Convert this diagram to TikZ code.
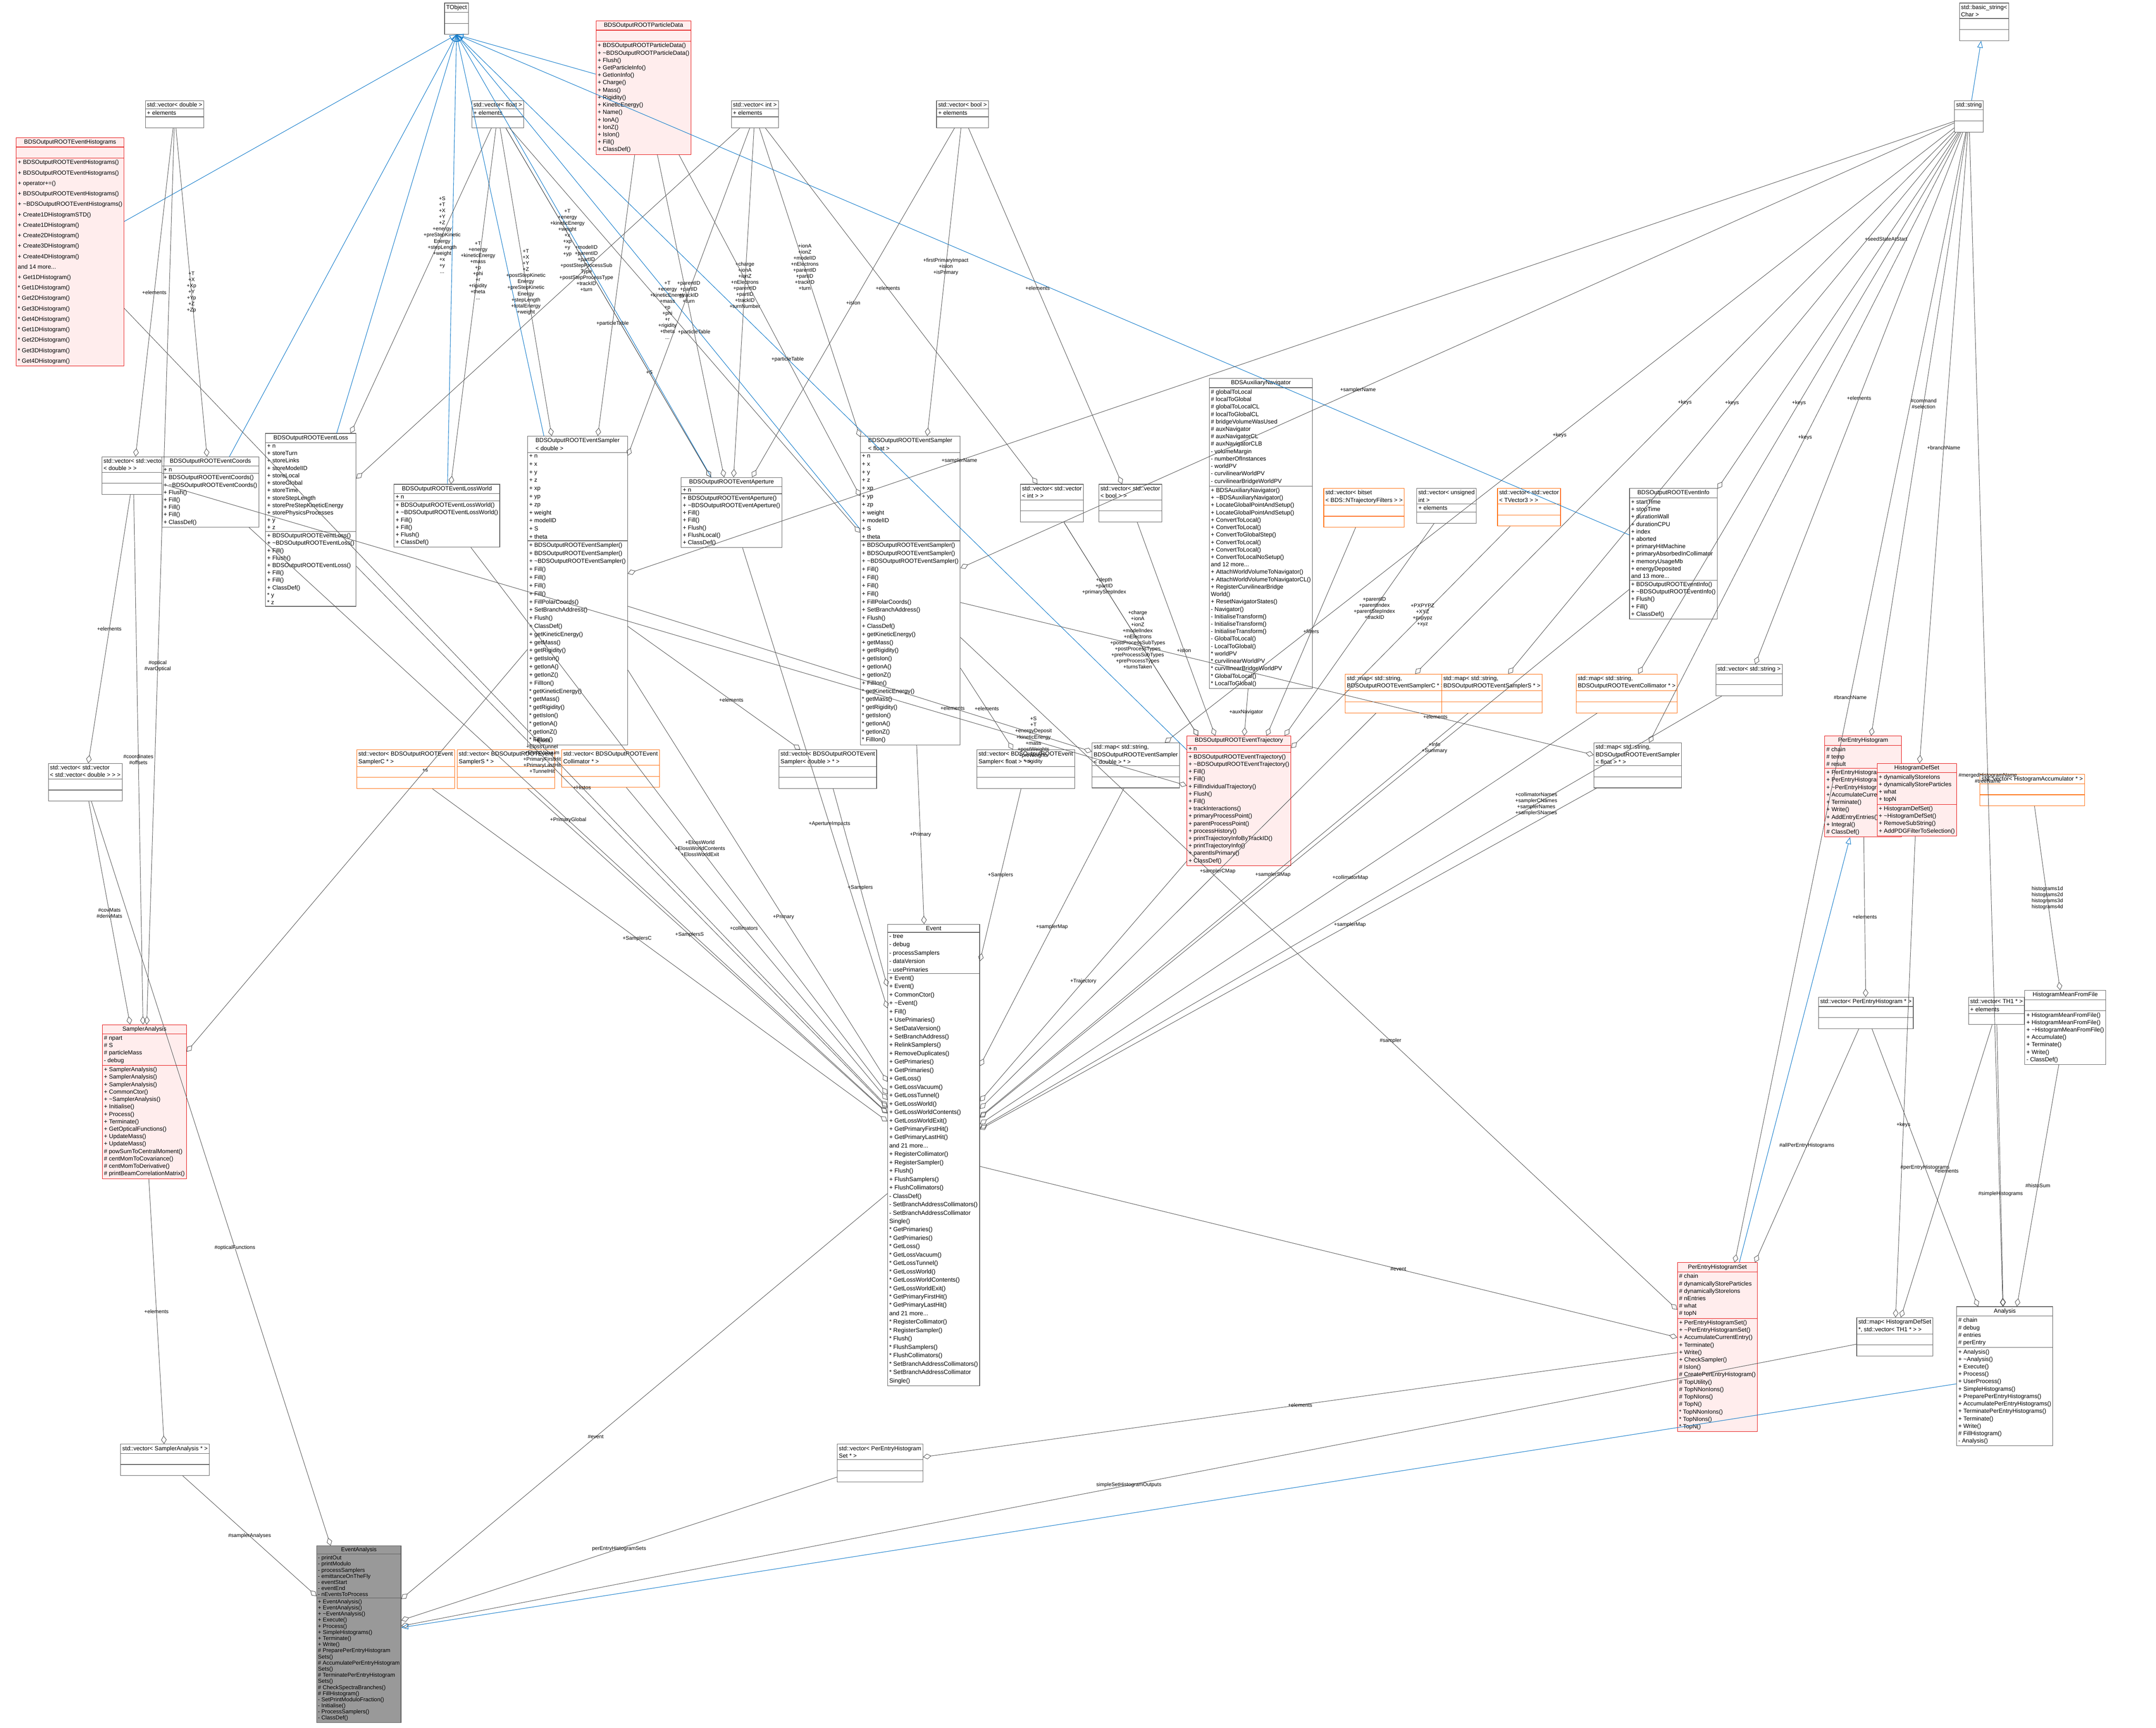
\documentclass[tikz,border=0pt]{standalone}
\usepackage{fontspec}
\setmainfont{Liberation Sans}
\usetikzlibrary{shapes.multipart,arrows.meta}
\newcommand{\tld}{\textasciitilde}
\newcommand{\ff}{\fontsize{4.3}{5.4}\selectfont}
\newcommand{\lf}{\fontsize{3.8}{4.4}\selectfont}
\tikzset{
 cls/.style={draw=black!65,fill=white,line width=0.35pt,rectangle split,rectangle split parts=3,
   rectangle split part align={center,left,left},align=left,inner sep=1.2pt,font=\ff,
   rectangle split empty part height=3pt,anchor=north},
 redc/.style={cls,draw=red!90!black,fill=red!7},
 orc/.style={cls,draw=orange!80!red},
 grc/.style={cls,fill=black!40},
 agg/.style={draw=black!70,line width=0.3pt,-{Diamond[open,length=6pt,width=4pt]}},
 inh/.style={draw=cyan!60!blue,line width=0.35pt,-{Triangle[open,length=5pt,width=4pt]}},
 lbl/.style={font=\lf,align=center,inner sep=0.5pt}
}
\begin{document}
\begin{tikzpicture}[x=1pt,y=-1pt]
\useasboundingbox (0,0) rectangle (1568,1256.5);
\node[cls] (tobj) at (332,2) {TObject\nodepart{second}\nodepart{third}};
\node[cls] (bstr) at (1443,2) {std::basic\_string<\\Char >\nodepart{second}\nodepart{third}};
\node[redc] (pdata) at (468,15) {BDSOutputROOTParticleData\nodepart{second}\nodepart{third}+ BDSOutputROOTParticleData()\\+ \tld BDSOutputROOTParticleData()\\+ Flush()\\+ GetParticleInfo()\\+ GetIonInfo()\\+ Charge()\\+ Mass()\\+ Rigidity()\\+ KineticEnergy()\\+ Name()\\+ IonA()\\+ IonZ()\\+ IsIon()\\+ Fill()\\+ ClassDef()};
\node[cls] (vd) at (127,73) {std::vector< double >\nodepart{second}+ elements\nodepart{third}};
\node[cls] (vf) at (362,73) {std::vector< float >\nodepart{second}+ elements\nodepart{third}};
\node[cls] (vi) at (549,73) {std::vector< int >\nodepart{second}+ elements\nodepart{third}};
\node[cls] (vb) at (700,73) {std::vector< bool >\nodepart{second}+ elements\nodepart{third}};
\node[cls] (str) at (1432,73) {std::string\nodepart{second}\nodepart{third}};
\node[redc,font=\fontsize{4.3}{7.6}\selectfont] (hist) at (51,100) {BDSOutputROOTEventHistograms\nodepart{second}\nodepart{third}+ BDSOutputROOTEventHistograms()\\+ BDSOutputROOTEventHistograms()\\+ operator+=()\\+ BDSOutputROOTEventHistograms()\\+ \tld BDSOutputROOTEventHistograms()\\+ Create1DHistogramSTD()\\+ Create1DHistogram()\\+ Create2DHistogram()\\+ Create3DHistogram()\\+ Create4DHistogram()\\and 14 more...\\+ Get1DHistogram()\\* Get1DHistogram()\\* Get2DHistogram()\\* Get3DHistogram()\\* Get4DHistogram()\\* Get1DHistogram()\\* Get2DHistogram()\\* Get3DHistogram()\\* Get4DHistogram()};
\node[cls] (vvd) at (97,332) {std::vector< std::vector\\< double > >\nodepart{second}\nodepart{third}};
\node[cls] (coords) at (153,332) {BDSOutputROOTEventCoords\nodepart{second}+ n\nodepart{third}+ BDSOutputROOTEventCoords()\\+ \tld BDSOutputROOTEventCoords()\\+ Flush()\\+ Fill()\\+ Fill()\\+ Fill()\\+ ClassDef()};
\node[cls] (loss) at (226,315) {BDSOutputROOTEventLoss\nodepart{second}+ n\\+ storeTurn\\+ storeLinks\\+ storeModelID\\+ storeLocal\\+ storeGlobal\\+ storeTime\\+ storeStepLength\\+ storePreStepKineticEnergy\\+ storePhysicsProcesses\\+ y\\+ z\nodepart{third}+ BDSOutputROOTEventLoss()\\+ \tld BDSOutputROOTEventLoss()\\+ Fill()\\+ Flush()\\+ BDSOutputROOTEventLoss()\\+ Fill()\\+ Fill()\\+ ClassDef()\\* y\\* z};
\node[cls] (lw) at (325,352) {BDSOutputROOTEventLossWorld\nodepart{second}+ n\nodepart{third}+ BDSOutputROOTEventLossWorld()\\+ \tld BDSOutputROOTEventLossWorld()\\+ Fill()\\+ Fill()\\+ Flush()\\+ ClassDef()};
\node[cls,font=\fontsize{4.3}{5.9}\selectfont] (sd) at (420,317) {BDSOutputROOTEventSampler\\< double >\nodepart{second}+ n\\+ x\\+ y\\+ z\\+ xp\\+ yp\\+ zp\\+ weight\\+ modelID\\+ S\\+ theta\nodepart{third}+ BDSOutputROOTEventSampler()\\+ BDSOutputROOTEventSampler()\\+ \tld BDSOutputROOTEventSampler()\\+ Fill()\\+ Fill()\\+ Fill()\\+ Fill()\\+ FillPolarCoords()\\+ SetBranchAddress()\\+ Flush()\\+ ClassDef()\\+ getKineticEnergy()\\+ getMass()\\+ getRigidity()\\+ getIsIon()\\+ getIonA()\\+ getIonZ()\\+ FillIon()\\* getKineticEnergy()\\* getMass()\\* getRigidity()\\* getIsIon()\\* getIonA()\\* getIonZ()\\* FillIon()};
\node[cls] (ap) at (532,347) {BDSOutputROOTEventAperture\nodepart{second}+ n\nodepart{third}+ BDSOutputROOTEventAperture()\\+ \tld BDSOutputROOTEventAperture()\\+ Fill()\\+ Fill()\\+ Flush()\\+ FlushLocal()\\+ ClassDef()};
\node[cls,font=\fontsize{4.3}{5.9}\selectfont] (sf) at (662,317) {BDSOutputROOTEventSampler\\< float >\nodepart{second}+ n\\+ x\\+ y\\+ z\\+ xp\\+ yp\\+ zp\\+ weight\\+ modelID\\+ S\\+ theta\nodepart{third}+ BDSOutputROOTEventSampler()\\+ BDSOutputROOTEventSampler()\\+ \tld BDSOutputROOTEventSampler()\\+ Fill()\\+ Fill()\\+ Fill()\\+ Fill()\\+ FillPolarCoords()\\+ SetBranchAddress()\\+ Flush()\\+ ClassDef()\\+ getKineticEnergy()\\+ getMass()\\+ getRigidity()\\+ getIsIon()\\+ getIonA()\\+ getIonZ()\\+ FillIon()\\* getKineticEnergy()\\* getMass()\\* getRigidity()\\* getIsIon()\\* getIonA()\\* getIonZ()\\* FillIon()};
\node[cls] (vvi) at (765,352) {std::vector< std::vector\\< int > >\nodepart{second}\nodepart{third}};
\node[cls] (vvb) at (822,352) {std::vector< std::vector\\< bool > >\nodepart{second}\nodepart{third}};
\node[cls] (aux) at (917,275) {BDSAuxiliaryNavigator\nodepart{second}\# globalToLocal\\\# localToGlobal\\\# globalToLocalCL\\\# localToGlobalCL\\\# bridgeVolumeWasUsed\\\# auxNavigator\\\# auxNavigatorCL\\\# auxNavigatorCLB\\- volumeMargin\\- numberOfInstances\\- worldPV\\- curvilinearWorldPV\\- curvilinearBridgeWorldPV\nodepart{third}+ BDSAuxiliaryNavigator()\\+ \tld BDSAuxiliaryNavigator()\\+ LocateGlobalPointAndSetup()\\+ LocateGlobalPointAndSetup()\\+ ConvertToLocal()\\+ ConvertToLocal()\\+ ConvertToGlobalStep()\\+ ConvertToLocal()\\+ ConvertToLocal()\\+ ConvertToLocalNoSetup()\\and 12 more...\\+ AttachWorldVolumeToNavigator()\\+ AttachWorldVolumeToNavigatorCL()\\+ RegisterCurvilinearBridge\\World()\\+ ResetNavigatorStates()\\- Navigator()\\- InitialiseTransform()\\- InitialiseTransform()\\- InitialiseTransform()\\- GlobalToLocal()\\- LocalToGlobal()\\* worldPV\\* curvilinearWorldPV\\* curvilinearBridgeWorldPV\\* GlobalToLocal()\\* LocalToGlobal()};
\node[orc] (bits) at (992,355) {std::vector< bitset\\< BDS::NTrajectoryFilters > >\nodepart{second}\nodepart{third}};
\node[cls] (vu) at (1052,355) {std::vector< unsigned\\int >\nodepart{second}+ elements\nodepart{third}};
\node[orc] (tv3) at (1112,355) {std::vector< std::vector\\< TVector3 > >\nodepart{second}\nodepart{third}};
\node[cls] (info) at (1217,355) {BDSOutputROOTEventInfo\nodepart{second}+ startTime\\+ stopTime\\+ durationWall\\+ durationCPU\\+ index\\+ aborted\\+ primaryHitMachine\\+ primaryAbsorbedInCollimator\\+ memoryUsageMb\\+ energyDeposited\\and 13 more...\nodepart{third}+ BDSOutputROOTEventInfo()\\+ \tld BDSOutputROOTEventInfo()\\+ Flush()\\+ Fill()\\+ ClassDef()};
\node[cls] (vs) at (1272,483) {std::vector< std::string >\nodepart{second}\nodepart{third}};
\node[orc] (mc) at (1015,490) {std::map< std::string,\\BDSOutputROOTEventSamplerC * >\nodepart{second}\nodepart{third}};
\node[orc] (ms) at (1085,490) {std::map< std::string,\\BDSOutputROOTEventSamplerS * >\nodepart{second}\nodepart{third}};
\node[orc] (mcol) at (1183,490) {std::map< std::string,\\BDSOutputROOTEventCollimator * >\nodepart{second}\nodepart{third}};
\node[redc] (traj) at (901,535) {BDSOutputROOTEventTrajectory\nodepart{second}+ n\nodepart{third}+ BDSOutputROOTEventTrajectory()\\+ \tld BDSOutputROOTEventTrajectory()\\+ Fill()\\+ Fill()\\+ FillIndividualTrajectory()\\+ Flush()\\+ Fill()\\+ trackInteractions()\\+ primaryProcessPoint()\\+ parentProcessPoint()\\+ processHistory()\\+ printTrajectoryInfoByTrackID()\\+ printTrajectoryInfo()\\+ parentIsPrimary()\\+ ClassDef()};
\node[cls] (mdd) at (826,540) {std::map< std::string,\\BDSOutputROOTEventSampler\\< double > * >\nodepart{second}\nodepart{third}};
\node[cls] (vsf) at (746,545) {std::vector< BDSOutputROOTEvent\\Sampler< float > * >\nodepart{second}\nodepart{third}};
\node[cls] (vsd) at (602,545) {std::vector< BDSOutputROOTEvent\\Sampler< double > * >\nodepart{second}\nodepart{third}};
\node[orc] (vc) at (295,545) {std::vector< BDSOutputROOTEvent\\SamplerC * >\nodepart{second}\nodepart{third}};
\node[orc] (vss) at (368,545) {std::vector< BDSOutputROOTEvent\\SamplerS * >\nodepart{second}\nodepart{third}};
\node[orc] (vcol) at (444,545) {std::vector< BDSOutputROOTEvent\\Collimator * >\nodepart{second}\nodepart{third}};
\node[cls] (msf) at (1191,540) {std::map< std::string,\\BDSOutputROOTEventSampler\\< float > * >\nodepart{second}\nodepart{third}};
\node[redc] (peh) at (1355,535) {PerEntryHistogram\nodepart{second}\# chain\\\# temp\\\# result\nodepart{third}+ PerEntryHistogram()\\+ PerEntryHistogram()\\+ \tld PerEntryHistogram()\\+ AccumulateCurrentEntry()\\+ Terminate()\\+ Write()\\+ AddEntryEntries()\\+ Integral()\\\# ClassDef()};
\node[redc] (hds) at (1394,555) {HistogramDefSet\nodepart{second}+ dynamicallyStoreIons\\+ dynamicallyStoreParticles\\+ what\\+ topN\nodepart{third}+ HistogramDefSet()\\+ \tld HistogramDefSet()\\+ RemoveSubString()\\+ AddPDGFilterToSelection()};
\node[orc] (vacc) at (1478,563) {std::vector< HistogramAccumulator * >\nodepart{second}\nodepart{third}};
\node[cls] (hmff) at (1502,720) {HistogramMeanFromFile\nodepart{second}\nodepart{third}+ HistogramMeanFromFile()\\+ HistogramMeanFromFile()\\+ \tld HistogramMeanFromFile()\\+ Accumulate()\\+ Terminate()\\+ Write()\\- ClassDef()};
\node[cls] (vpeh) at (1357,725) {std::vector< PerEntryHistogram * >\nodepart{second}\nodepart{third}};
\node[cls] (vth) at (1452,725) {std::vector< TH1 * >\nodepart{second}+ elements\nodepart{third}};
\node[cls] (vvvd) at (62,555) {std::vector< std::vector\\< std::vector< double > > >\nodepart{second}\nodepart{third}};
\node[redc] (sa) at (105,745) {SamplerAnalysis\nodepart{second}\# npart\\\# S\\\# particleMass\\- debug\nodepart{third}+ SamplerAnalysis()\\+ SamplerAnalysis()\\+ SamplerAnalysis()\\+ CommonCtor()\\+ \tld SamplerAnalysis()\\+ Initialise()\\+ Process()\\+ Terminate()\\+ GetOpticalFunctions()\\+ UpdateMass()\\+ UpdateMass()\\\# powSumToCentralMoment()\\\# centMomToCovariance()\\\# centMomToDerivative()\\\# printBeamCorrelationMatrix()};
\node[cls,font=\fontsize{4.4}{6.1}\selectfont] (ev) at (679,672) {Event\nodepart{second}- tree\\- debug\\- processSamplers\\- dataVersion\\- usePrimaries\nodepart{third}+ Event()\\+ Event()\\+ CommonCtor()\\+ \tld Event()\\+ Fill()\\+ UsePrimaries()\\+ SetDataVersion()\\+ SetBranchAddress()\\+ RelinkSamplers()\\+ RemoveDuplicates()\\+ GetPrimaries()\\+ GetPrimaries()\\+ GetLoss()\\+ GetLossVacuum()\\+ GetLossTunnel()\\+ GetLossWorld()\\+ GetLossWorldContents()\\+ GetLossWorldExit()\\+ GetPrimaryFirstHit()\\+ GetPrimaryLastHit()\\and 21 more...\\+ RegisterCollimator()\\+ RegisterSampler()\\+ Flush()\\+ FlushSamplers()\\+ FlushCollimators()\\- ClassDef()\\- SetBranchAddressCollimators()\\- SetBranchAddressCollimator\\Single()\\* GetPrimaries()\\* GetPrimaries()\\* GetLoss()\\* GetLossVacuum()\\* GetLossTunnel()\\* GetLossWorld()\\* GetLossWorldContents()\\* GetLossWorldExit()\\* GetPrimaryFirstHit()\\* GetPrimaryLastHit()\\and 21 more...\\* RegisterCollimator()\\* RegisterSampler()\\* Flush()\\* FlushSamplers()\\* FlushCollimators()\\* SetBranchAddressCollimators()\\* SetBranchAddressCollimator\\Single()};
\node[redc] (pehs) at (1249,918) {PerEntryHistogramSet\nodepart{second}\# chain\\\# dynamicallyStoreParticles\\\# dynamicallyStoreIons\\\# nEntries\\\# what\\\# topN\nodepart{third}+ PerEntryHistogramSet()\\+ \tld PerEntryHistogramSet()\\+ AccumulateCurrentEntry()\\+ Terminate()\\+ Write()\\+ CheckSampler()\\\# IsIon()\\\# CreatePerEntryHistogram()\\\# TopUtility()\\\# TopNNonIons()\\\# TopNIons()\\\# TopN()\\* TopNNonIons()\\* TopNIons()\\* TopN()};
\node[cls] (mhds) at (1378,958) {std::map< HistogramDefSet\\*, std::vector< TH1 * > >\nodepart{second}\nodepart{third}};
\node[cls] (an) at (1458,950) {Analysis\nodepart{second}\# chain\\\# debug\\\# entries\\\# perEntry\nodepart{third}+ Analysis()\\+ \tld Analysis()\\+ Execute()\\+ Process()\\+ UserProcess()\\+ SimpleHistograms()\\+ PreparePerEntryHistograms()\\+ AccumulatePerEntryHistograms()\\+ TerminatePerEntryHistograms()\\+ Terminate()\\+ Write()\\\# FillHistogram()\\- Analysis()};
\node[cls] (vpehs) at (640,1050) {std::vector< PerEntryHistogram\\Set * >\nodepart{second}\nodepart{third}};
\node[cls] (vsa) at (120,1050) {std::vector< SamplerAnalysis * >\nodepart{second}\nodepart{third}};
\node[grc,font=\fontsize{4.1}{4.45}\selectfont,inner sep=0.9pt] (ea) at (261,1124) {EventAnalysis\nodepart{second}- printOut\\- printModulo\\- processSamplers\\- emittanceOnTheFly\\- eventStart\\- eventEnd\\- nEventsToProcess\nodepart{third}+ EventAnalysis()\\+ EventAnalysis()\\+ \tld EventAnalysis()\\+ Execute()\\+ Process()\\+ SimpleHistograms()\\+ Terminate()\\+ Write()\\\# PreparePerEntryHistogram\\Sets()\\\# AccumulatePerEntryHistogram\\Sets()\\\# TerminatePerEntryHistogram\\Sets()\\\# CheckSpectraBranches()\\\# FillHistogram()\\- SetPrintModuloFraction()\\- Initialise()\\- ProcessSamplers()\\- ClassDef()};
% inheritance
\foreach \n in {hist,pdata,coords,loss,lw,sd,ap,sf,traj,info} \draw[inh] (\n) -- (tobj.south);
\draw[inh] (str) -- (bstr);
\draw[inh] (an) -- (ea);
\draw[inh] (pehs) -- (peh);
% aggregations
\draw[agg] (vd) -- node[lbl,pos=.5]{+elements} (vvd);
\draw[agg] (vvd) -- node[lbl]{+elements} (vvvd);
\draw[agg] (vd) -- node[lbl]{+T\\+X\\+Xp\\+Y\\+Yp\\+Z\\+Zp} (coords);
\draw[agg] (vf) -- node[lbl,pos=.35]{+S\\+T\\+X\\+Y\\+Z\\+energy\\+preStepKinetic\\Energy\\+stepLength\\+weight\\+x\\+y\\...} (loss);
\draw[agg] (vi) -- node[lbl,pos=.4]{+modelID\\+parentID\\+partID\\+postStepProcessSub\\Type\\+postStepProcessType\\+trackID\\+turn} (loss);
\draw[agg] (vf) -- node[lbl,pos=.4]{+T\\+energy\\+kineticEnergy\\+mass\\+p\\+phi\\+r\\+rigidity\\+theta\\...} (lw);
\draw[agg] (vf) -- node[lbl,pos=.5]{+T\\+X\\+Y\\+Z\\+postStepKinetic\\Energy\\+preStepKinetic\\Energy\\+stepLength\\+totalEnergy\\+weight} (sd);
\draw[agg] (vi) -- node[lbl,pos=.5]{+parentID\\+partID\\+trackID\\+turn} (sd);
\draw[agg] (pdata) -- node[lbl,pos=.6]{+particleTable} (sd);
\draw[agg] (vi) -- node[lbl,pos=.45]{+charge\\+ionA\\+ionZ\\+nElectrons\\+parentID\\+partID\\+trackID\\+turnNumber} (ap);
\draw[agg] (vf) -- node[lbl,pos=.7]{+S} (ap);
\draw[agg] (vf) -- node[lbl,pos=.3]{+T\\+energy\\+kineticEnergy\\+weight\\+x\\+xp\\+y\\+yp} (ap);
\draw[agg] (pdata) -- node[lbl,pos=.55]{+particleTable} (ap);
\draw[agg] (vi) -- node[lbl,pos=.45]{+ionA\\+ionZ\\+modelID\\+nElectrons\\+parentID\\+partID\\+trackID\\+turn} (sf);
\draw[agg] (vb) -- node[lbl,pos=.5]{+isIon} (ap);
\draw[agg] (vf) -- node[lbl,pos=.45]{+T\\+energy\\+kineticEnergy\\+mass\\+p\\+phi\\+r\\+rigidity\\+theta\\...} (sf);
\draw[agg] (pdata) -- node[lbl,pos=.6]{+particleTable} (sf);
\draw[agg] (vb) -- node[lbl,pos=.45]{+firstPrimaryImpact\\+isIon\\+isPrimary} (sf);
\draw[agg] (str) -- node[lbl,pos=.6]{+samplerName} (sf);
\draw[agg] (str) -- node[lbl,pos=.75]{+samplerName} (sd);
\draw[agg] (vi) -- node[lbl,pos=.45]{+elements} (vvi);
\draw[agg] (vb) -- node[lbl,pos=.45]{+elements} (vvb);
\draw[agg] (vvi) -- node[lbl,pos=.3]{+depth\\+partID\\+primaryStepIndex} (traj);
\draw[agg] (vvi) -- node[lbl,pos=.55]{+charge\\+ionA\\+ionZ\\+modelIndex\\+nElectrons\\+postProcessSubTypes\\+postProcessTypes\\+preProcessSubTypes\\+preProcessTypes\\+turnsTaken} (traj);
\draw[agg] (vvd) -- node[lbl,pos=.85]{+S\\+T\\+energyDeposit\\+kineticEnergy\\+mass\\+postWeights\\+preWeights\\+rigidity} (traj);
\draw[agg] (vvb) -- node[lbl,pos=.6]{+isIon} (traj);
\draw[agg] (aux) -- node[lbl]{+auxNavigator} (traj);
\draw[agg] (bits) -- node[lbl]{+filters} (traj);
\draw[agg] (tv3) -- node[lbl,pos=.4]{+PXPYPZ\\+XYZ\\+pxpypz\\+xyz} (traj);
\draw[agg] (vu) -- node[lbl,pos=.4]{+parentID\\+parentIndex\\+parentStepIndex\\+trackID} (traj);
\draw[agg] (sd) -- node[lbl,pos=.6]{+elements} (vsd);
\draw[agg] (sf) -- node[lbl,pos=.5]{+elements} (vsf);
\draw[agg] (sd) -- node[lbl,pos=.7]{+elements} (mdd);
\draw[agg] (sf) -- node[lbl,pos=.75]{+elements} (msf);
\draw[agg] (str) -- node[lbl,pos=.5]{+keys} (mc);
\draw[agg] (str) -- node[lbl,pos=.5]{+keys} (ms);
\draw[agg] (str) -- node[lbl,pos=.5]{+keys} (mcol);
\draw[agg] (str) -- node[lbl,pos=.5]{+keys} (msf);
\draw[agg] (str) -- node[lbl,pos=.5]{+keys} (mdd);
\draw[agg] (str) -- node[lbl,pos=.3]{+seedStateAtStart} (info);
\draw[agg] (str) -- node[lbl,pos=.5]{+elements} (vs);
\draw[agg] (str) -- node[lbl,pos=.45]{\#command\\\#selection} (peh);
\draw[agg] (str) -- node[lbl,pos=.5]{+branchName} (hds);
\draw[agg] (str) -- node[lbl,pos=.55]{\#mergedHistogramName\\\#treeName} (an);
\draw[agg] (str) -- node[lbl,pos=.5]{\#branchName} (pehs);
% into Event
\draw[agg] (hist) -- node[lbl,pos=.6]{+Histos} (ev);
\draw[agg] (coords) -- node[lbl,pos=.5]{+PrimaryGlobal} (ev);
\draw[agg] (loss) -- node[lbl,pos=.35]{+Eloss\\+ElossTunnel\\+ElossVacuum\\+PrimaryFirstHit\\+PrimaryLastHit\\+TunnelHit} (ev);
\draw[agg] (lw) -- node[lbl,pos=.55]{+ElossWorld\\+ElossWorldContents\\+ElossWorldExit} (ev);
\draw[agg] (vc) -- node[lbl,pos=.45]{+SamplersC} (ev);
\draw[agg] (vss) -- node[lbl,pos=.45]{+SamplersS} (ev);
\draw[agg] (vcol) -- node[lbl,pos=.45]{+collimators} (ev);
\draw[agg] (sd) -- node[lbl,pos=.6]{+Primary} (ev);
\draw[agg] (ap) -- node[lbl,pos=.6]{+ApertureImpacts} (ev);
\draw[agg] (vsd) -- node[lbl,pos=.5]{+Samplers} (ev);
\draw[agg] (sf) -- node[lbl,pos=.5]{+Primary} (ev);
\draw[agg] (vsf) -- node[lbl,pos=.5]{+Samplers} (ev);
\draw[agg] (mdd) -- node[lbl,pos=.5]{+samplerMap} (ev);
\draw[agg] (traj) -- node[lbl,pos=.5]{+Trajectory} (ev);
\draw[agg] (mc) -- node[lbl,pos=.4]{+samplerCMap} (ev);
\draw[agg] (ms) -- node[lbl,pos=.4]{+samplerSMap} (ev);
\draw[agg] (mcol) -- node[lbl,pos=.4]{+collimatorMap} (ev);
\draw[agg] (msf) -- node[lbl,pos=.4]{+samplerMap} (ev);
\draw[agg] (info) -- node[lbl,pos=.3]{+Info\\+Summary} (ev);
\draw[agg] (vs) -- node[lbl,pos=.25]{+collimatorNames\\+samplerCNames\\+samplerNames\\+samplerSNames} (ev);
% SamplerAnalysis etc.
\draw[agg] (vd) -- node[lbl,pos=.6]{\#optical\\\#varOptical} (sa);
\draw[agg] (vvvd) -- node[lbl,pos=.5]{\#covMats\\\#derivMats} (sa);
\draw[agg] (vvd) -- node[lbl,pos=.5]{\#coordinates\\\#offsets} (sa);
\draw[agg] (sd) -- node[lbl,pos=.3]{+s} (sa);
\draw[agg] (sa) -- node[lbl,pos=.5]{+elements} (vsa);
\draw[agg] (vsa) -- node[lbl,pos=.5]{\#samplerAnalyses} (ea);
\draw[agg] (vvvd) -- node[lbl,pos=.6]{\#opticalFunctions} (ea);
\draw[agg] (ev) -- node[lbl,pos=.6]{\#event} (ea);
\draw[agg] (ev) -- node[lbl,pos=.6]{\#event} (pehs);
\draw[agg] (sf) -- node[lbl,pos=.6]{\#sampler} (pehs);
\draw[agg] (pehs) -- node[lbl,pos=.5]{+elements} (vpehs);
\draw[agg] (vpehs) -- node[lbl,pos=.5]{perEntryHistogramSets} (ea);
\draw[agg] (mhds) -- node[lbl,pos=.5]{simpleSetHistogramOutputs} (ea);
\draw[agg] (peh) -- node[lbl,pos=.5]{+elements} (vpeh);
\draw[agg] (vpeh) -- node[lbl,pos=.5]{\#allPerEntryHistograms} (pehs);
\draw[agg] (vpeh) -- node[lbl,pos=.5]{\#perEntryHistograms} (an);
\draw[agg] (hds) -- node[lbl,pos=.6]{+keys} (mhds);
\draw[agg] (vth) -- node[lbl,pos=.5]{+elements} (mhds);
\draw[agg] (vth) -- node[lbl,pos=.6]{\#simpleHistograms} (an);
\draw[agg] (hmff) -- node[lbl,pos=.5]{\#histoSum} (an);
\draw[agg] (vacc) -- node[lbl,pos=.5]{histograms1d\\histograms2d\\histograms3d\\histograms4d} (hmff);
\end{tikzpicture}
\end{document}
